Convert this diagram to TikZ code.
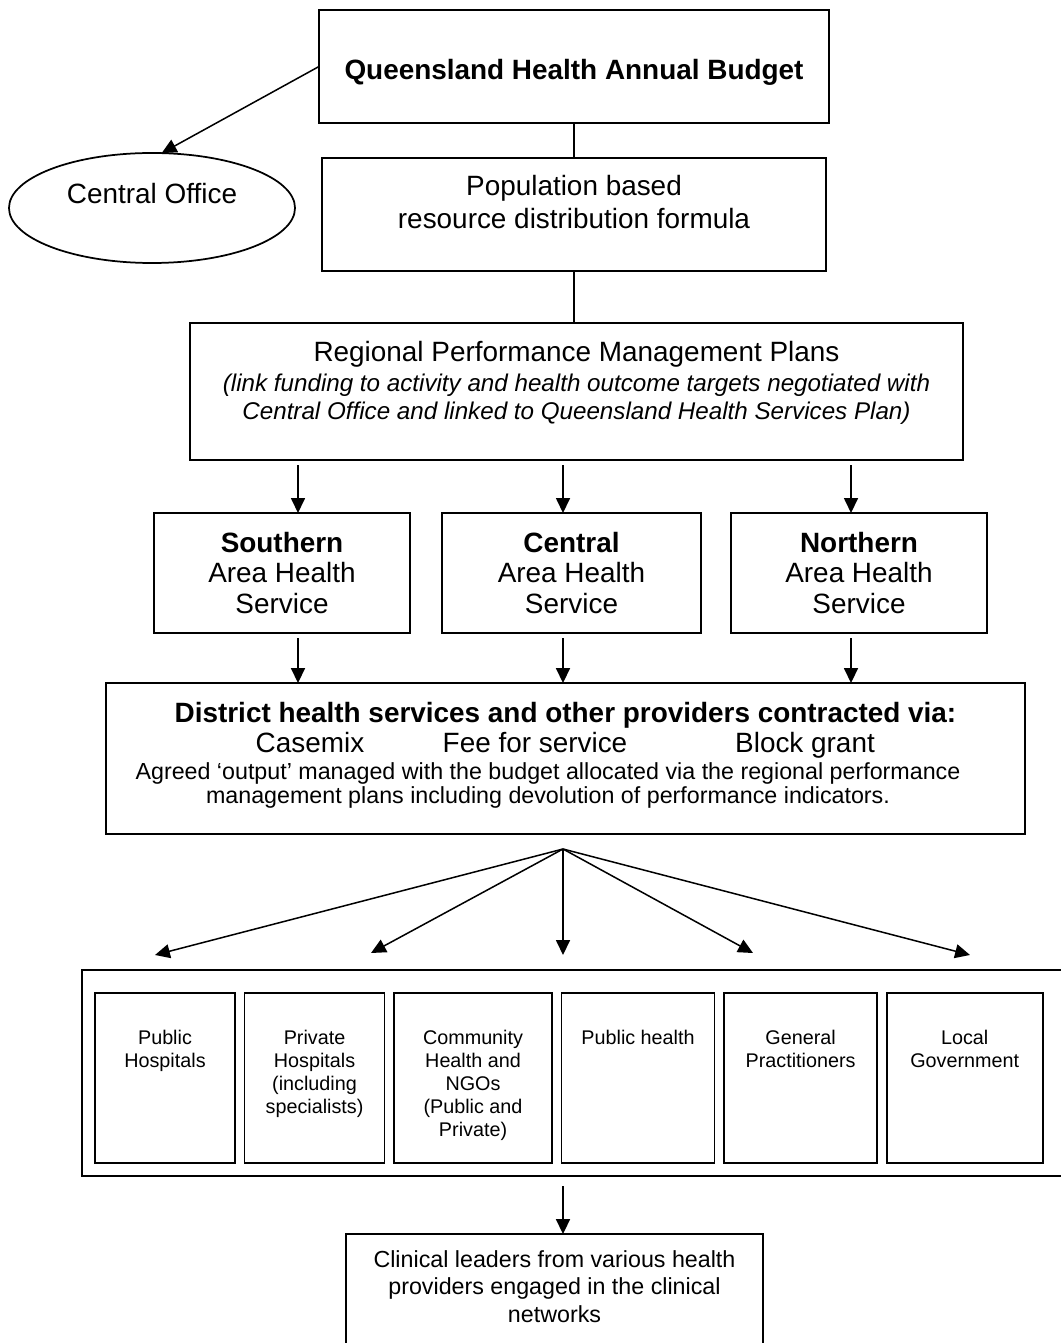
\documentclass[tikz,border=0pt]{standalone}
\usepackage{fontspec}
\setmainfont{Liberation Sans}
\usetikzlibrary{positioning, shapes.geometric, arrows.meta}

\begin{document}
\begin{tikzpicture}[x=0.43pt, y=-0.43pt,
    box/.style={draw, line width=0.75pt, inner sep=0pt, outer sep=0pt},
    area/.style={box, minimum height=51.6pt, align=center, font=\fontsize{12}{13}\selectfont},
    inner/.style={box, minimum height=73.1pt},
    txt/.style={inner sep=0pt, anchor=north, align=center, font=\fontsize{12}{14}\selectfont},
    smalltxt/.style={txt, font=\fontsize{8.5}{9.9}\selectfont},
    arr/.style={line width=0.65pt, -{Triangle[length=6.4pt, width=6pt]}},
    link/.style={line width=0.65pt}]

\useasboundingbox (0,0) rectangle (1060,1343);

\node (budget) [box, minimum width=219.3pt, minimum height=48.6pt] at (574,66.5) {};
\node (budgettxt) [txt, below=21.1pt of budget.north] {\textbf{Queensland Health Annual Budget}};

\node (central) [box, ellipse, minimum width=123pt, minimum height=47.3pt] at (152,208) {};
\node (centraltxt) [txt, below=12.9pt of central.north] {Central Office};

\node (population) [box, minimum width=216.7pt, minimum height=48.6pt] at (574,214.5) {};
\node (poptxt) [txt, below=7.3pt of population.north] {Population based\\resource distribution formula};

\node (regional) [box, minimum width=332.4pt, minimum height=58.9pt] at (576.5,391.5) {};
\node (regtitle) [txt, below=7.7pt of regional.north] {Regional Performance Management Plans};
\node (regnote) [txt, font=\fontsize{10.4}{12}\selectfont\itshape, below=21.9pt of regional.north]
    {(link funding to activity and health outcome targets negotiated with\\Central Office and linked to Queensland Health Services Plan)};

\node (southern) [area, minimum width=110.1pt] at (282,573) {\textbf{Southern}\\Area Health\\Service};
\node (centralarea) [area, minimum width=111.4pt] at (571.5,573) {\textbf{Central}\\Area Health\\Service};
\node (northern) [area, minimum width=110.1pt] at (859,573) {\textbf{Northern}\\Area Health\\Service};

\node (district) [box, minimum width=395.2pt, minimum height=64.9pt] at (565.5,758.5) {};
\node (disthead) [txt, below=8.2pt of district.north] {\textbf{District health services and other providers contracted via:}};
\node (casemix) [txt] at (310,732) {Casemix};
\node (feeservice) [txt] at (535,732) {Fee for service};
\node (blockgrant) [txt] at (805,732) {Block grant};
\node (agreed) [txt, font=\fontsize{10}{10.4}\selectfont] at (548,762)
    {Agreed `output' managed with the budget allocated via the regional performance\\management plans including devolution of performance indicators.};

\node (providers) [box, minimum width=423.1pt, minimum height=88.6pt] at (574,1073) {};
\node (pubhosp) [inner, minimum width=60.2pt] at (165,1078) {};
\node (privhosp) [inner, minimum width=60.2pt, right=4.1pt of pubhosp] {};
\node (community) [inner, minimum width=67.9pt, right=4.1pt of privhosp] {};
\node (pubhealth) [inner, minimum width=65.8pt, right=4.1pt of community] {};
\node (gp) [inner, minimum width=65.8pt, right=4.1pt of pubhealth] {};
\node (localgov) [inner, minimum width=67.1pt, right=4.1pt of gp] {};

\node (pubhosptxt) [smalltxt, below=15.9pt of pubhosp.north] {Public\\Hospitals};
\node (privhosptxt) [smalltxt, below=15.9pt of privhosp.north] {Private\\Hospitals\\(including\\specialists)};
\node (communitytxt) [smalltxt, below=15.9pt of community.north] {Community\\Health and\\NGOs\\(Public and\\Private)};
\node (pubhealthtxt) [smalltxt, below=15.9pt of pubhealth.north] {Public health};
\node (gptxt) [smalltxt, below=15.9pt of gp.north] {General\\Practitioners};
\node (localgovtxt) [smalltxt, below=15.9pt of localgov.north] {Local\\Government};

\node (clinical) [box, minimum width=179.3pt, minimum height=50.7pt] at (554.5,1293) {};
\node (clinicaltxt) [txt, font=\fontsize{10}{11.8}\selectfont, below=6.9pt of clinical.north]
    {Clinical leaders from various health\\providers engaged in the clinical\\networks};

% connectors
\draw[arr] (budget.west) -- (central.80);
\draw[link] (budget.south) -- (population.north);
\draw[link] (population.south) -- (population.south |- regional.north);

\coordinate (colS) at (298,0);
\coordinate (colC) at (563,0);
\coordinate (colN) at (851,0);

\draw[arr, shorten <=2.2pt] (colS |- regional.south) -- (colS |- southern.north);
\draw[arr, shorten <=2.2pt] (colC |- regional.south) -- (colC |- centralarea.north);
\draw[arr, shorten <=2.2pt] (colN |- regional.south) -- (colN |- northern.north);

\draw[arr, shorten <=2.2pt] (colS |- southern.south) -- (colS |- district.north);
\draw[arr, shorten <=2.2pt] (colC |- centralarea.south) -- (colC |- district.north);
\draw[arr, shorten <=2.2pt] (colN |- northern.south) -- (colN |- district.north);

\coordinate (fan) at (563,849);
\coordinate (tipA) at (155,955);
\coordinate (tipB) at (371,953);
\coordinate (tipC) at (563,955);
\coordinate (tipD) at (753,953);
\coordinate (tipE) at (970,955);

\draw[arr] (fan) -- (tipA);
\draw[arr] (fan) -- (tipB);
\draw[arr] (fan) -- (tipC);
\draw[arr] (fan) -- (tipD);
\draw[arr] (fan) -- (tipE);

\draw[arr, shorten <=4.3pt] (colC |- providers.south) -- (colC |- clinical.north);

\end{tikzpicture}
\end{document}
